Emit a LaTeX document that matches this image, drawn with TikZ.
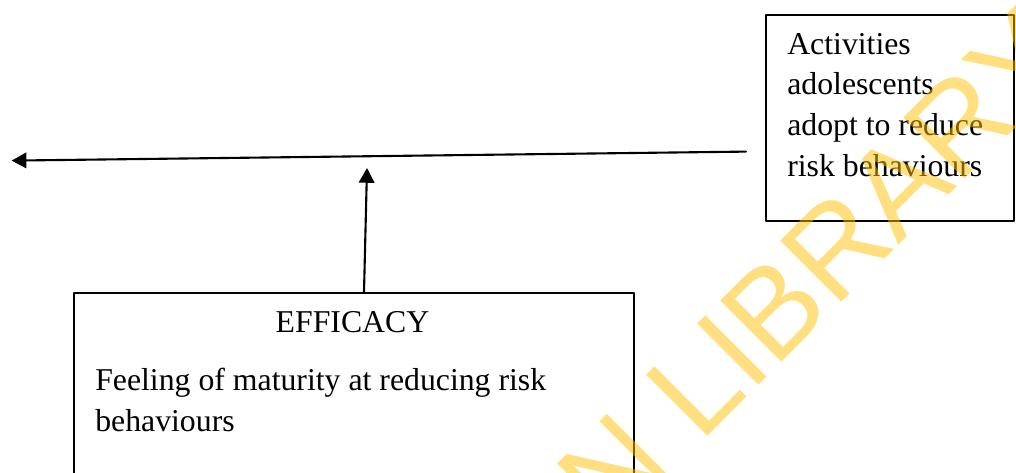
\documentclass[tikz,border=0pt]{standalone}
\usepackage{fontspec}
\setmainfont{Liberation Serif}
\newfontfamily\wmfont{Liberation Sans}
\usepackage{pgf,tikz}
\usetikzlibrary{arrows.meta}
\usetikzlibrary{positioning}
\definecolor{wmyellow}{RGB}{255,192,0}
\tikzset{
  framebox/.style={draw,line width=1.3pt,inner sep=0pt,anchor=north west},
  boxtext/.style={inner sep=0pt,align=left,font=\fontsize{22.6}{28.9}\selectfont},
  link/.style={->,line width=1.5pt}
}

\begin{document}
\begin{tikzpicture}[line cap=round,line join=round,>={Triangle[length=10.5pt,width=11pt]},x=1cm,y=1cm]
\useasboundingbox (0,0) rectangle (25.4,-11.8);
\clip (0,0) rectangle (25.4,-11.8);
% boxes
\node [framebox,minimum width=6.2cm,minimum height=5.15cm] (actbox) at (19.125,-0.35) {};
\node [framebox,minimum width=14cm,minimum height=5.7cm] (effbox) at (1.825,-7.3) {};
\node [boxtext,anchor=base west] (acttext) at (19.675,-4.4) {Activities\\adolescents\\adopt to reduce\\risk behaviours};
\node [boxtext,anchor=base] (efftitle) at (8.8125,-8.3) {EFFICACY};
\node [boxtext,anchor=base west] (efftext) at (2.375,-10.775) {Feeling of maturity at reducing risk\\behaviours};
% arrows
\coordinate (hstart) at (18.65,-3.79);
\coordinate (htip) at (0.29,-4.015);
\coordinate (vstart) at (9.1,-7.3);
\coordinate (vtip) at (9.175,-4.2);
\draw [link] (hstart) -- (htip);
\draw [link] (vstart) -- (vtip);
% watermark
\node [inner sep=0pt,anchor=base west,rotate=45,text=wmyellow,opacity=0.5,font=\wmfont\fontsize{89.5}{90}\selectfont] (wmark) at (15.2875,-13.3125) {N LIBRARY};
\end{tikzpicture}
\end{document}
